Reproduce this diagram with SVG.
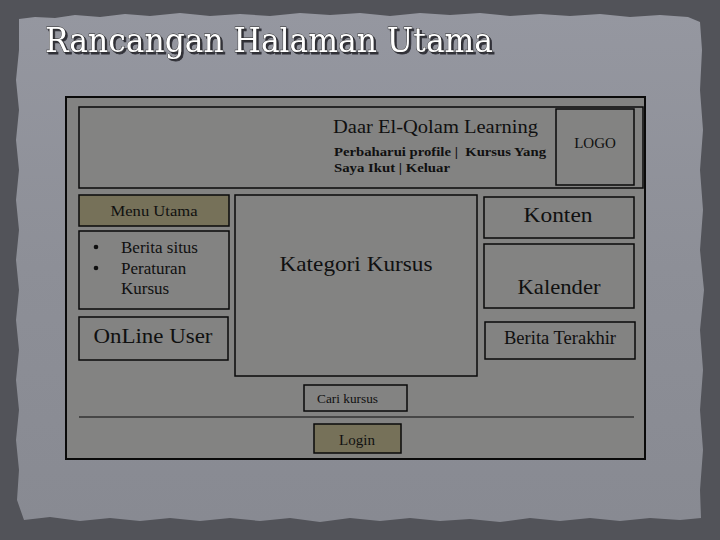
<svg xmlns="http://www.w3.org/2000/svg" width="720" height="540" viewBox="0 0 720 540">
  <defs>
    <linearGradient id="paper" x1="0" y1="0" x2="0" y2="1">
      <stop offset="0" stop-color="#9597a0"/>
      <stop offset="0.5" stop-color="#8d8f97"/>
      <stop offset="1" stop-color="#888a92"/>
    </linearGradient>
    <filter id="shadow" x="-5%" y="-20%" width="110%" height="150%">
      <feDropShadow dx="2" dy="2" stdDeviation="0.6" flood-color="#2a2b30" flood-opacity="0.95"/>
    </filter>
    <style>
      .box { fill: none; stroke: #0a0a0a; stroke-width: 1.5; }
      .olive { fill: #767159; stroke: #0a0a0a; stroke-width: 1.5; }
      .t { font-family: "Liberation Serif", "Times New Roman", serif; fill: #101010; }
      .c { text-anchor: middle; }
      .b { font-weight: bold; }
    </style>
  </defs>

  <!-- background -->
  <rect x="0" y="0" width="720" height="540" fill="#525359"/>
  <path fill="url(#paper)" d="M19,19 L35,17 L55,18 L75,15 L100,17 L125,14 L150,16 L180,13 L210,16 L240,14 L270,16 L300,13 L330,15 L360,13 L390,16 L420,13 L450,15 L480,13 L510,16 L540,14 L570,16 L600,14 L630,17 L660,15 L688,17 L700,22 L702,50 L700,90 L703,130 L700,170 L703,210 L700,250 L704,290 L700,330 L703,370 L700,410 L703,450 L700,490 L701,518 L680,520 L650,518 L620,521 L590,518 L560,521 L530,518 L500,522 L470,519 L440,521 L410,518 L380,521 L350,518 L320,522 L290,518 L260,521 L230,518 L200,521 L170,518 L140,521 L110,518 L80,521 L50,517 L24,520 L17,500 L19,470 L16,440 L19,410 L16,380 L19,350 L16,320 L19,290 L16,260 L19,230 L16,200 L19,170 L16,140 L19,110 L16,80 L19,50 Z"/>

  <!-- title -->
  <g id="title">
    <text x="45" y="52" font-family="'DejaVu Serif', 'Liberation Serif', serif" font-size="33" fill="#ffffff" stroke="#2a2a2a" stroke-width="0.8" paint-order="stroke" filter="url(#shadow)" textLength="448" lengthAdjust="spacingAndGlyphs">Rancangan Halaman Utama</text>
  </g>

  <!-- outer frame -->
  <g id="frame">
    <rect x="66" y="97" width="579" height="362" fill="#838382" stroke="#0a0a0a" stroke-width="2"/>
  </g>

  <g id="header">
    <rect class="box" x="79" y="107" width="564" height="81"/>
    <text class="t" x="333" y="133" font-size="19.5" textLength="205" lengthAdjust="spacingAndGlyphs">Daar El-Qolam Learning</text>
    <text class="t b" x="334" y="156" font-size="13.5" textLength="212" lengthAdjust="spacingAndGlyphs" xml:space="preserve">Perbaharui profile |  Kursus Yang</text>
    <text class="t b" x="334" y="172" font-size="13.5" textLength="116" lengthAdjust="spacingAndGlyphs">Saya Ikut | Keluar</text>
  </g>

  <g id="logo">
    <rect class="box" x="556" y="109" width="78" height="76"/>
    <text class="t c" x="595" y="148" font-size="15">LOGO</text>
  </g>

  <g id="menu-utama">
    <rect class="olive" x="79" y="195" width="150" height="31"/>
    <text class="t c" x="154" y="216" font-size="15.5" textLength="87" lengthAdjust="spacingAndGlyphs">Menu Utama</text>
  </g>

  <g id="menu-list">
    <rect class="box" x="79" y="231" width="150" height="78"/>
    <circle cx="96" cy="247" r="2.3" fill="#101010"/>
    <circle cx="96" cy="268" r="2.3" fill="#101010"/>
    <text class="t" x="121" y="253" font-size="17">Berita situs</text>
    <text class="t" x="121" y="274" font-size="17">Peraturan</text>
    <text class="t" x="121" y="294" font-size="17">Kursus</text>
  </g>

  <g id="online-user">
    <rect class="box" x="79" y="317" width="149" height="43"/>
    <text class="t c" x="153" y="343" font-size="22" textLength="119" lengthAdjust="spacingAndGlyphs">OnLine User</text>
  </g>

  <g id="kategori-kursus">
    <rect class="box" x="235" y="195" width="242" height="181"/>
    <text class="t c" x="356" y="271" font-size="22" textLength="153" lengthAdjust="spacingAndGlyphs">Kategori Kursus</text>
  </g>

  <g id="konten">
    <rect class="box" x="484" y="197" width="150" height="41"/>
    <text class="t c" x="558" y="222" font-size="22" textLength="69" lengthAdjust="spacingAndGlyphs">Konten</text>
  </g>

  <g id="kalender">
    <rect class="box" x="484" y="244" width="150" height="64"/>
    <text class="t c" x="559" y="294" font-size="22" textLength="83" lengthAdjust="spacingAndGlyphs">Kalender</text>
  </g>

  <g id="berita-terakhir">
    <rect class="box" x="485" y="322" width="150" height="37"/>
    <text class="t c" x="560" y="344" font-size="18" textLength="112" lengthAdjust="spacingAndGlyphs">Berita Terakhir</text>
  </g>

  <g id="cari-kursus">
    <rect class="box" x="304" y="385" width="103" height="26" stroke-width="1.2"/>
    <text class="t" x="317" y="403" font-size="13" textLength="61" lengthAdjust="spacingAndGlyphs">Cari kursus</text>
  </g>

  <g id="connectors">
    <line x1="79" y1="417" x2="634" y2="417" stroke="#0a0a0a" stroke-width="1.2"/>
  </g>

  <g id="login">
    <rect class="olive" x="314" y="424" width="87" height="29"/>
    <text class="t c" x="357" y="445" font-size="15">Login</text>
  </g>
</svg>
